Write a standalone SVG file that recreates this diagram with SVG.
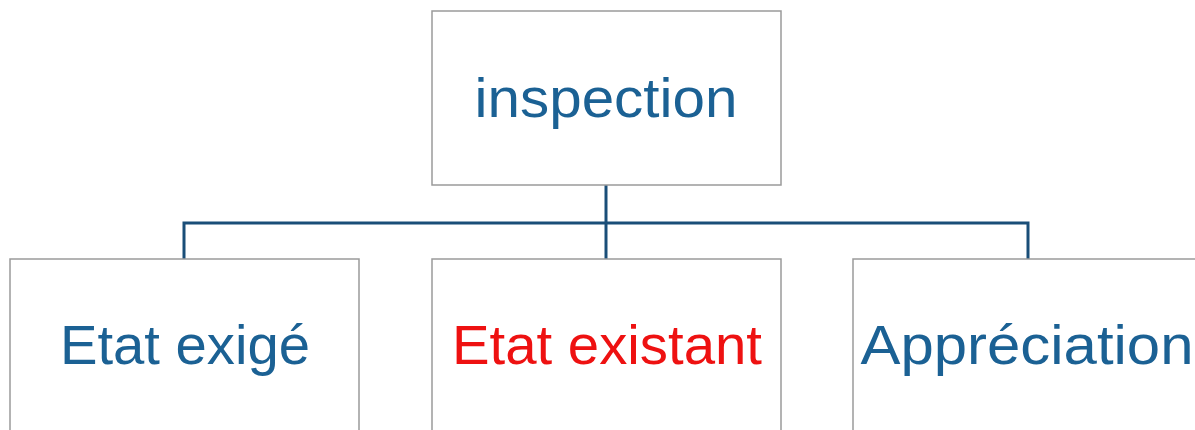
<svg xmlns="http://www.w3.org/2000/svg" width="1195" height="430" viewBox="0 0 1195 430">
  <style>
    .box { fill: #ffffff; stroke: #9a9a9a; stroke-width: 1.5; }
    .label { font-family: "Liberation Sans", Arial, sans-serif; font-size: 55px; fill: #1b6194; text-anchor: middle; }
    .label.alert { fill: #ee1111; }
    .link { fill: none; stroke: #1a4e78; stroke-width: 3; }
  </style>
  <rect width="1195" height="430" fill="#ffffff"/>

  <!-- tree connectors -->
  <g id="connectors">
    <path class="link" d="M606 185 V259"/>
    <path class="link" d="M184 259 V223 H1028 V259"/>
  </g>

  <g id="node-inspection">
    <rect class="box" x="432" y="11" width="349" height="174"/>
    <text class="label" x="606" y="117" textLength="263" lengthAdjust="spacingAndGlyphs">inspection</text>
  </g>

  <g id="node-etat-exige">
    <rect class="box" x="10" y="259" width="349" height="200"/>
    <text class="label" x="185" y="364" textLength="250" lengthAdjust="spacingAndGlyphs">Etat exigé</text>
  </g>

  <g id="node-etat-existant">
    <rect class="box" x="432" y="259" width="349" height="200"/>
    <text class="label alert" x="607" y="364" textLength="310" lengthAdjust="spacingAndGlyphs">Etat existant</text>
  </g>

  <g id="node-appreciation">
    <rect class="box" x="853" y="259" width="349" height="200"/>
    <text class="label" x="1027" y="364" textLength="333" lengthAdjust="spacingAndGlyphs">Appréciation</text>
  </g>
</svg>
